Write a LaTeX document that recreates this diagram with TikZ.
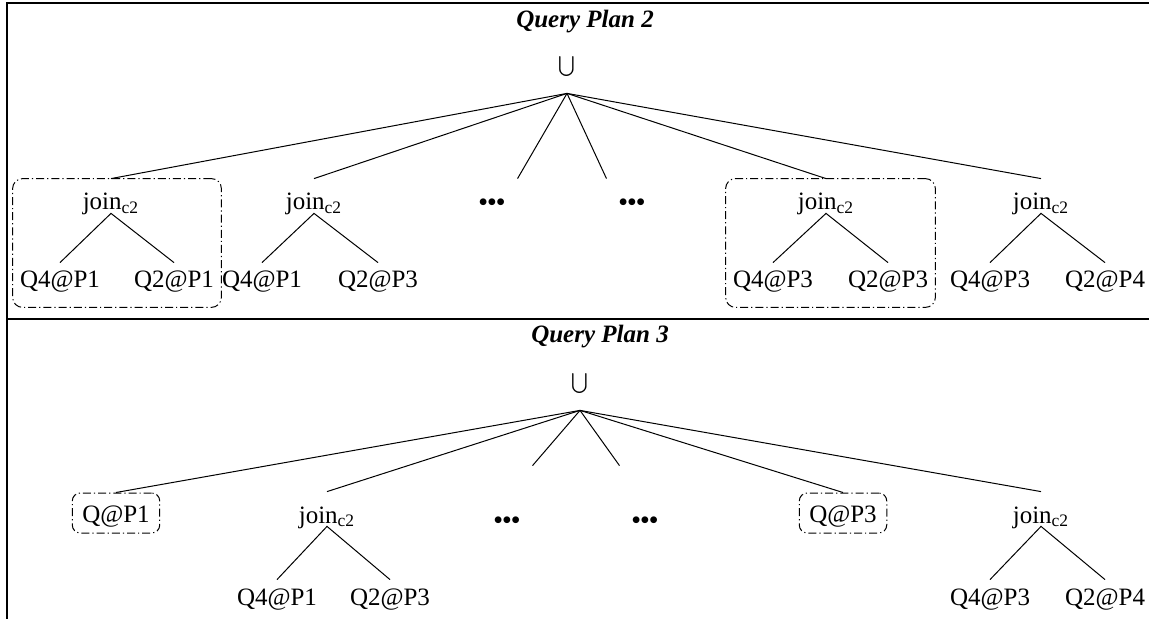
\documentclass[tikz,border=0pt]{standalone}
\usepackage{fontspec}
\setmainfont{Liberation Serif}
\usetikzlibrary{fit}

\begin{document}
\begin{tikzpicture}[x=0.5pt,y=-0.5pt,font=\fontsize{12.5}{15}\selectfont,
  lbl/.style={inner sep=0pt,anchor=base},
  unode/.style={lbl,font=\fontsize{17}{20}\selectfont,text depth=9pt},
  opnode/.style={lbl,text height=15.5pt,text depth=1.5pt},
  leafnode/.style={lbl,text height=12.5pt,text depth=9.5pt},
  dotnode/.style={lbl,inner xsep=6pt,font=\fontsize{12.5}{15}\selectfont\bfseries},
  dashdot/.style={draw,line width=.5pt,dash pattern=on 4pt off 1.5pt on .6pt off 1.5pt},
  grpbox/.style={dashdot,rounded corners=5pt,inner xsep=3.5pt,inner ysep=0pt},
  qbox/.style={lbl,dashdot,rounded corners=4pt,inner xsep=5pt,inner ysep=5pt,text height=9.5pt,text depth=.5pt},
  ttl/.style={lbl,font=\fontsize{12.5}{15}\selectfont\bfseries\itshape}]
\useasboundingbox (0,0) rectangle (1149,619);
\draw[line width=1pt] (7,619) -- (7,3) -- (1149,3);
\draw[line width=1pt] (7,319) -- (1149,319);

% query plan 2
\node[ttl] (title2) at (585,28) {Query Plan 2};
\node[unode] (u2) at (567,75) {$\bigcup$};
\node[opnode] (j21) at (111,210) {join\textsubscript{c2}};
\node[leafnode] (a21) at (60,288) {Q4@P1};
\node[leafnode] (b21) at (174,288) {Q2@P1};
\node[opnode] (j22) at (314,210) {join\textsubscript{c2}};
\node[leafnode] (a22) at (262,288) {Q4@P1};
\node[leafnode] (b22) at (378,288) {Q2@P3};
\node[dotnode,text height=16pt] (d21) at (492,211) {•••};
\node[dotnode,text height=16pt] (d22) at (632,211) {•••};
\node[opnode] (j23) at (826,210) {join\textsubscript{c2}};
\node[leafnode] (a23) at (773,288) {Q4@P3};
\node[leafnode] (b23) at (888,288) {Q2@P3};
\node[opnode] (j24) at (1041,210) {join\textsubscript{c2}};
\node[leafnode] (a24) at (990,288) {Q4@P3};
\node[leafnode] (b24) at (1105,288) {Q2@P4};
\node[grpbox,fit=(j21)(a21)(b21)] (g21) {};
\node[grpbox,fit=(j23)(a23)(b23)] (g23) {};
\foreach \c in {j21.north,j22.north,d21.north east,d22.north west,j23.north,j24.north}
  \draw[line width=.5pt] (u2.south) -- (\c);
\foreach \j/\a/\b in {j21/a21/b21,j22/a22/b22,j23/a23/b23,j24/a24/b24}{
  \draw[line width=.5pt] (\a.north) -- (\j.south) -- (\b.north);
}

% query plan 3
\node[ttl] (title3) at (600,343) {Query Plan 3};
\node[unode] (u3) at (580,392) {$\bigcup$};
\node[qbox] (q31) at (116,522) {Q@P1};
\node[opnode] (j32) at (327,523) {join\textsubscript{c2}};
\node[leafnode] (a32) at (277,605) {Q4@P1};
\node[leafnode] (b32) at (390,605) {Q2@P3};
\node[dotnode,text height=31pt] (d31) at (507,528) {•••};
\node[dotnode,text height=31pt] (d32) at (645,528) {•••};
\node[qbox] (q35) at (843,522) {Q@P3};
\node[opnode] (j36) at (1041,523) {join\textsubscript{c2}};
\node[leafnode] (a36) at (990,605) {Q4@P3};
\node[leafnode] (b36) at (1105,605) {Q2@P4};
\foreach \c in {q31.north,j32.north,d31.north east,d32.north west,q35.north,j36.north}
  \draw[line width=.5pt] (u3.south) -- (\c);
\foreach \j/\a/\b in {j32/a32/b32,j36/a36/b36}{
  \draw[line width=.5pt] (\a.north) -- (\j.south) -- (\b.north);
}
\end{tikzpicture}
\end{document}
